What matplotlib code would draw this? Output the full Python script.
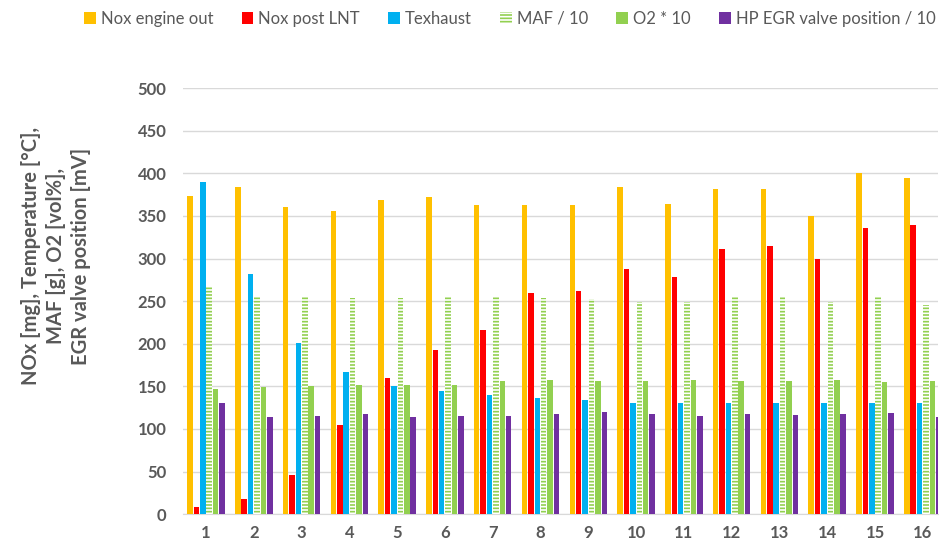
import matplotlib.pyplot as plt
import numpy as np

# values
cycles = list(range(1, 17))
nox_engine_out = [373, 384, 360, 356, 369, 372, 363, 363, 363, 384, 364, 382, 381, 350, 400, 395]
nox_post_lnt = [8, 18, 46, 105, 160, 193, 216, 260, 262, 288, 278, 311, 315, 299, 336, 339]
t_exhaust = [390, 282, 201, 167, 150, 145, 140, 136, 134, 131, 130, 131, 130, 130, 130, 130]
maf_10 = [267, 255, 255, 254, 254, 255, 255, 254, 253, 249, 249, 255, 255, 249, 255, 245]
o2_10 = [147, 149, 150, 151, 151, 151, 156, 157, 156, 156, 157, 156, 156, 157, 155, 156]
egr_10 = [130, 114, 115, 118, 114, 115, 115, 117, 120, 117, 115, 118, 116, 117, 119, 114]

labels = ['Nox engine out', 'Nox post LNT', 'Texhaust', 'MAF / 10', 'O2 * 10',
          'HP EGR valve position / 10']
colors = ['#FFC000', '#FF0000', '#00B0F0', '#92D050', '#92D050', '#7030A0']
series = [nox_engine_out, nox_post_lnt, t_exhaust, maf_10, o2_10, egr_10]

plt.rcParams['font.family'] = ['Lato', 'DejaVu Sans']
gray = '#595959'
plt.rcParams['hatch.linewidth'] = 1.2

fig = plt.figure(figsize=(9.39, 5.47), dpi=100)
ax = fig.add_axes([0.195, 0.06, 0.804, 0.779])

x = np.array(cycles)
step = 0.134
width = 0.115
for i, (vals, lab, col) in enumerate(zip(series, labels, colors)):
    pos = x + (i - 2.5) * step
    if lab == 'MAF / 10':
        ax.bar(pos, vals, width, facecolor='white', edgecolor=col, hatch='-----',
               linewidth=0, label=lab, zorder=3)
    else:
        ax.bar(pos, vals, width, color=col, label=lab, zorder=3)

ax.set_ylim(0, 500)
ax.set_yticks(np.arange(0, 501, 50))
ax.set_xlim(0.52, 16.32)
ax.set_xticks(cycles)
ax.grid(axis='y', color='#D9D9D9', linewidth=1, zorder=0)
for s in ['top', 'right', 'left']:
    ax.spines[s].set_visible(False)
ax.spines['bottom'].set_color('#D9D9D9')
ax.tick_params(axis='both', length=0, labelsize=12, labelcolor=gray)
ax.tick_params(axis='y', pad=12)
ax.tick_params(axis='x', pad=8)
for t in ax.get_xticklabels() + ax.get_yticklabels():
    t.set_fontweight('bold')

ax.set_ylabel('NOx [mg], Temperature [°C],\nMAF [g], O2 [vol%],\nEGR valve position [mV]',
              fontsize=14.5, fontweight='bold', color=gray, linespacing=1.3)
ax.yaxis.set_label_coords(-0.122, 0.605)

fig.legend(loc='center', bbox_to_anchor=(0.543, 0.966), ncol=6, frameon=False,
           fontsize=12, labelcolor=gray, handlelength=0.7, handleheight=0.7,
           handletextpad=0.3, columnspacing=1.7)

fig.savefig('out.png', dpi=100)
